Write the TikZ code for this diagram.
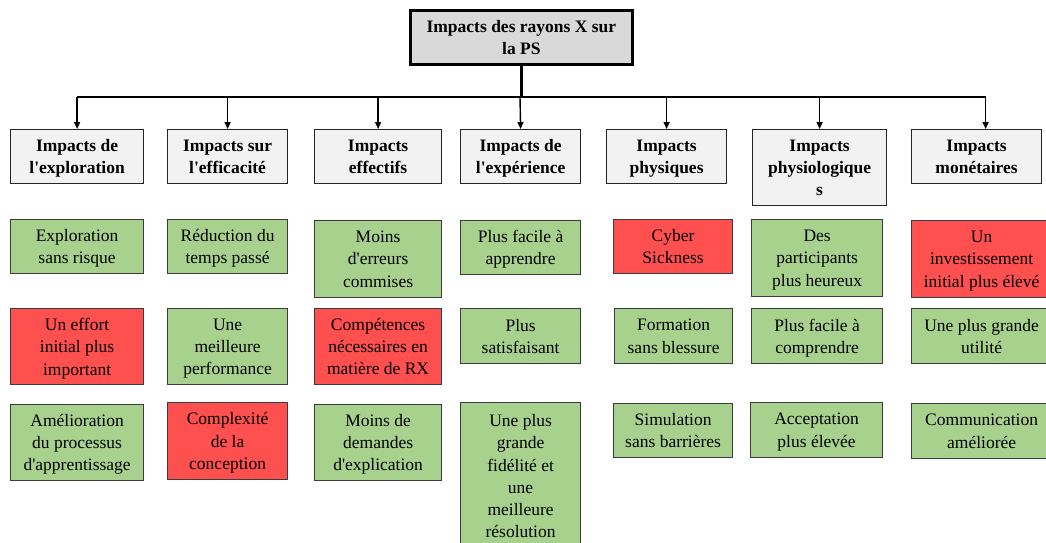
\documentclass[tikz,border=0pt]{standalone}
\usepackage{fontspec}
\setmainfont{Liberation Serif}[Ligatures=TeXOff]
\usetikzlibrary{arrows.meta,positioning}
\definecolor{good}{RGB}{169,209,142}
\definecolor{bad}{RGB}{255,80,80}
\definecolor{head}{RGB}{242,242,242}
\definecolor{rootfill}{RGB}{217,217,217}
\definecolor{edge}{RGB}{60,60,60}

\begin{document}
\begin{tikzpicture}[x=1pt,y=-1pt,
  font=\fontsize{17.5}{22.3}\selectfont,
  box/.style={draw=edge,line width=1.2pt,anchor=north west,align=center,inner sep=0pt,minimum height=54pt},
  good/.style={box,text depth=-2pt,fill=good},
  bad/.style={box,text depth=-2pt,fill=bad},
  hd/.style={box,text depth=-5pt,draw=black!85,fill=head,font=\fontsize{17.5}{22.3}\selectfont\bfseries},
  root/.style={box,draw=black,line width=2.8pt,fill=rootfill,font=\fontsize{17.5}{22.3}\selectfont\bfseries},
  a/.style={-{Triangle[length=7pt,width=6pt]},line width=1.4pt}]
  \useasboundingbox (0,0) rectangle (1046,542);
  % root and headers
  \node[root,minimum width=222pt] (top) at (409,9) {Impacts des rayons X sur\\la PS};
  \node[hd,minimum width=133pt] (expl) at (10,129) {Impacts de\\l'exploration};
  \node[hd,minimum width=120pt] (effic) at (167,129) {Impacts sur\\l'efficacité};
  \node[hd,minimum width=127pt] (eff) at (314,129) {Impacts\\effectifs};
  \node[hd,minimum width=120pt] (exper) at (460,129) {Impacts de\\l'expérience};
  \node[hd,minimum width=120pt] (phys) at (606,129) {Impacts\\physiques};
  \node[hd,minimum width=134pt,minimum height=76pt] (physio) at (752,129) {Impacts\\physiologique\\s};
  \node[hd,minimum width=130pt] (mon) at (911,129) {Impacts\\monétaires};
  % first row
  \node[good,minimum width=133pt] (expl1) at (10,219) {Exploration\\sans risque};
  \node[good,minimum width=120pt] (effic1) at (167,219) {Réduction du\\temps passé};
  \node[good,minimum width=127pt,minimum height=77pt] (eff1) at (314,220) {Moins\\d'erreurs\\commises};
  \node[good,minimum width=120pt] (exper1) at (460,220) {Plus facile à\\apprendre};
  \node[bad,minimum width=119pt] (phys1) at (613,219) {Cyber\\Sickness};
  \node[good,minimum width=131pt,minimum height=77pt] (physio1) at (751,219) {Des\\participants\\plus heureux};
  \node[bad,minimum width=140pt,minimum height=77pt] (mon1) at (911,220) {Un\\investissement\\initial plus élevé};
  % second row
  \node[bad,minimum width=133pt,minimum height=76pt] (expl2) at (10,308) {Un effort\\initial plus\\important};
  \node[good,minimum width=120pt,minimum height=76pt] (effic2) at (167,308) {Une\\meilleure\\performance};
  \node[bad,minimum width=127pt,minimum height=76pt] (eff2) at (314,308) {Compétences\\nécessaires en\\matière de RX};
  \node[good,minimum width=120pt,minimum height=55pt] (exper2) at (460,308) {Plus\\satisfaisant};
  \node[good,minimum width=118pt,minimum height=55pt] (phys2) at (614,308) {Formation\\sans blessure};
  \node[good,minimum width=131pt,minimum height=55pt] (physio2) at (751,308) {Plus facile à\\comprendre};
  \node[good,minimum width=140pt,minimum height=55pt] (mon2) at (911,308) {Une plus grande\\utilité};
  % third row
  \node[good,minimum width=133pt,minimum height=76pt] (expl3) at (10,404) {Amélioration\\du processus\\d'apprentissage};
  \node[bad,minimum width=120pt,minimum height=77pt] (effic3) at (167,402) {Complexité\\de la\\conception};
  \node[good,minimum width=127pt,minimum height=76pt] (eff3) at (314,404) {Moins de\\demandes\\d'explication};
  \node[good,text depth=14pt,minimum width=120pt,minimum height=161pt] (exper3) at (460,402) {Une plus\\grande\\fidélité et\\une\\meilleure\\résolution};
  \node[good,minimum width=119pt] (phys3) at (613,403) {Simulation\\sans barrières};
  \node[good,minimum width=132pt,minimum height=55pt] (physio3) at (750,402) {Acceptation\\plus élevée};
  \node[good,minimum width=140pt,minimum height=55pt] (mon3) at (911,403) {Communication\\améliorée};
  % connectors
  \coordinate (bus) at (520,97);
  \coordinate (monin) at ([xshift=9pt]mon.north);
  \draw[line width=2.8pt] (top.south) -- (top.south |- bus);
  \draw[line width=2pt] (bus -| expl.north) -- (bus -| monin);
  \draw[a] (bus -| expl.north) -- (expl.north);
  \draw[a] (bus -| effic.north) -- (effic.north);
  \draw[a] (bus -| eff.north) -- (eff.north);
  \draw[a] (bus) -- (exper.north);
  \draw[a] (bus -| phys.north) -- (phys.north);
  \draw[a] (bus -| physio.north) -- (physio.north);
  \draw[a] (bus -| monin) -- (monin);
\end{tikzpicture}
\end{document}
